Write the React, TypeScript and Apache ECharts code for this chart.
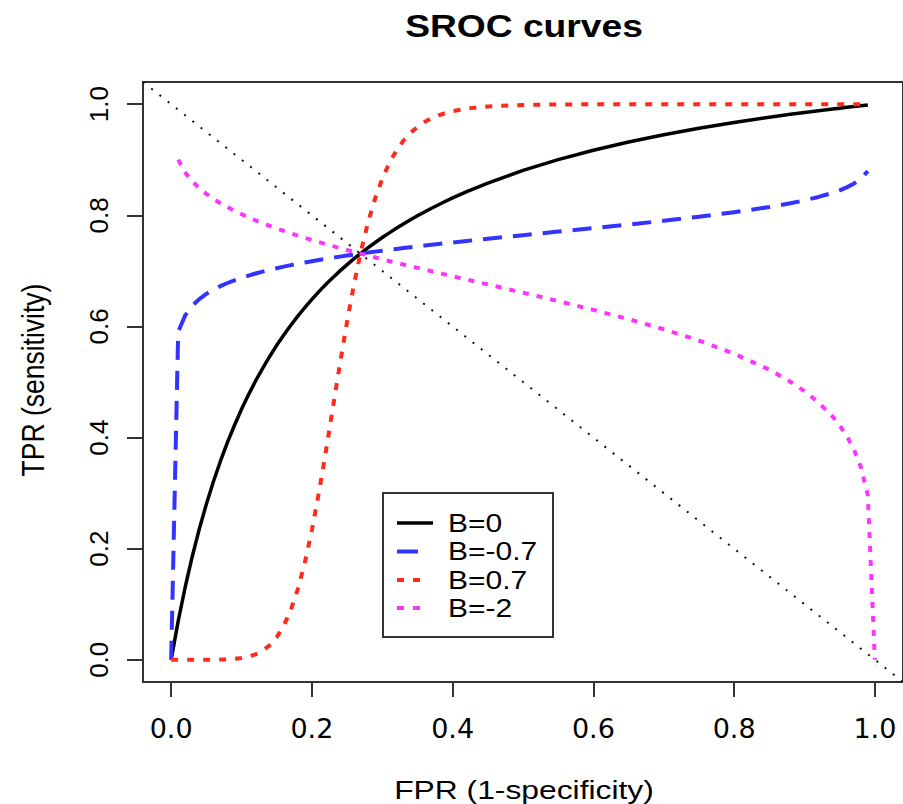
import React, { useEffect, useRef } from 'react';
import * as echarts from 'echarts';

// FPR grid (x values)
const FPR = [
  0, 0.01, 0.02, 0.03, 0.04, 0.05, 0.06, 0.07, 0.08, 0.09, 0.1, 0.11, 0.12, 0.13, 0.14, 0.15, 0.16, 0.17, 0.18, 0.19, 0.2,
  0.21, 0.22, 0.23, 0.24, 0.25, 0.26, 0.27, 0.28, 0.29, 0.3, 0.31, 0.32, 0.33, 0.34, 0.35, 0.36, 0.37, 0.38, 0.39, 0.4,
  0.42, 0.45, 0.5, 0.55, 0.6, 0.65, 0.7, 0.75, 0.8, 0.85, 0.88, 0.9, 0.92, 0.94, 0.95, 0.96, 0.97, 0.98, 0.99, 1.0,
];

// B = 0 (black, solid)
const TPR_B0 = [
  0, 0.0695, 0.131, 0.186, 0.2354, 0.28, 0.3205, 0.3574, 0.3912, 0.4222, 0.4509, 0.4773, 0.5019, 0.5247, 0.546, 0.566,
  0.5846, 0.6021, 0.6186, 0.6341, 0.6488, 0.6627, 0.6758, 0.6882, 0.7, 0.7112, 0.722, 0.7321, 0.7418, 0.7511, 0.76,
  0.7685, 0.7767, 0.7845, 0.792, 0.7991, 0.8061, 0.8127, 0.8191, 0.8253, 0.8313,
  0.8425, 0.8581, 0.8808, 0.9003, 0.9172, 0.9321, 0.9452, 0.9568, 0.9672, 0.9767, 0.9819, 0.9852, 0.9884, 0.9914,
  0.9929, 0.9944, 0.9958, 0.9972, 0.9986, null,
];

// B = -0.7 (blue, dashed)
const TPR_BM07 = [
  0, 0.5904, 0.62, 0.6372, 0.6492, 0.6586, 0.6662, 0.6726, 0.6782, 0.6831, 0.6876, 0.6916, 0.6953, 0.6987, 0.7019,
  0.7048, 0.7076, 0.7103, 0.7128, 0.7152, 0.7174, 0.7197, 0.7217, 0.7237, 0.7257, 0.7276, 0.7294, 0.7313, 0.733,
  0.7347, 0.7363, 0.738, 0.7395, 0.7411, 0.7426, 0.744, 0.7455, 0.747, 0.7484, 0.7498, 0.7512,
  0.7539, 0.7579, 0.7643, 0.7707, 0.777, 0.7834, 0.7902, 0.7975, 0.8055, 0.8149, 0.8217, 0.827, 0.8331, 0.8405,
  0.845, 0.8503, 0.8569, 0.8657, 0.8795, null,
];

// B = 0.7 (red, dotted)
const TPR_B07 = [
  0, 0, 0, 0, 0, 0, 0.0001, 0.0003, 0.0008, 0.0016, 0.0031, 0.0056, 0.0097, 0.0162, 0.0261, 0.0406, 0.0612, 0.0896,
  0.1272, 0.1751, 0.2334, 0.3013, 0.3762, 0.455, 0.5336, 0.6086, 0.6769, 0.737, 0.7883, 0.831, 0.8659, 0.8941,
  0.9165, 0.9343, 0.9482, 0.9593, 0.9679, 0.9747, 0.98, 0.9842, 0.9875,
  0.9921, 0.996, 0.9987, 0.9996, 0.9999, 1, 1, 1, 1, 1, 1, 1, 1, 1, 1, 1, 1, 1, 1, null,
];

// B = -2 (magenta, dotted)
const TPR_BM2 = [
  null, 0.9001, 0.877, 0.8612, 0.8489, 0.8387, 0.8297, 0.8218, 0.8147, 0.8082, 0.8021, 0.7964, 0.7909, 0.7859,
  0.7811, 0.7764, 0.772, 0.7677, 0.7635, 0.7595, 0.7556, 0.7518, 0.7481, 0.7445, 0.7409, 0.7375, 0.7341, 0.7307,
  0.7274, 0.7242, 0.721, 0.7177, 0.7146, 0.7115, 0.7084, 0.7054, 0.7024, 0.6993, 0.6963, 0.6933, 0.6904,
  0.6845, 0.6756, 0.6608, 0.6456, 0.6298, 0.6131, 0.5949, 0.5746, 0.551, 0.5221, 0.5006, 0.4836, 0.4632, 0.4377,
  0.4219, 0.4031, 0.3794, 0.3474, 0.2963, 0,
];

// reference diagonal (TPR = 1 - FPR) across the full plot range
const DIAG_X = [-0.04, 1.04];
const DIAG_Y = [1.04, -0.04];

const TICKS = [0, 0.2, 0.4, 0.6, 0.8, 1.0];
const SERIES_NAMES = ['B=0', 'B=-0.7', 'B=0.7', 'B=-2'];
const SERIES_COLORS = ['#000000', '#3333ff', '#ff2a1a', '#ff33ff'];
const TITLE = 'SROC curves';
const X_NAME = 'FPR (1-specificity)';
const Y_NAME = 'TPR (sensitivity)';

function pairs(xs: number[], ys: (number | null)[]) {
  const out: number[][] = [];
  xs.forEach((x, i) => {
    const y = ys[i];
    if (y !== null && y !== undefined) out.push([x, y]);
  });
  return out;
}

export default function App() {
  const ref = useRef<HTMLDivElement>(null);

  useEffect(() => {
    if (!ref.current) return;
    const chart = echarts.init(ref.current, null, { renderer: 'svg' });
    const boxColor = '#333333';
    const legendRows = [523, 551.5, 580, 608];
    const legendStyles = [
      { lineWidth: 3.5, lineDash: null as any, x2: 433 },
      { lineWidth: 4, lineDash: [21, 20], x2: 433 },
      { lineWidth: 4, lineDash: [7, 9], x2: 421 },
      { lineWidth: 4, lineDash: [7, 9], x2: 421 },
    ];
    const graphic: any[] = [
      {
        type: 'text', x: 524, y: 26, scaleX: 1.2, z: 100,
        style: { text: TITLE, x: 0, y: 0, textAlign: 'center', textVerticalAlign: 'middle', font: "bold 31px 'Liberation Sans'", fill: '#000' },
      },
      {
        type: 'text', x: 524, y: 790, scaleX: 1.2, z: 100,
        style: { text: X_NAME, x: 0, y: 0, textAlign: 'center', textVerticalAlign: 'middle', font: "26.5px 'Liberation Sans'", fill: '#000' },
      },
      {
        type: 'text', x: 33, y: 380, rotation: Math.PI / 2, scaleY: 1.2, z: 100,
        style: { text: Y_NAME, x: 0, y: 0, textAlign: 'center', textVerticalAlign: 'middle', font: "26.5px 'Liberation Sans'", fill: '#000' },
      },
      {
        type: 'rect', z: 100,
        shape: { x: 383, y: 493, width: 170, height: 144 },
        style: { fill: '#ffffff', stroke: boxColor, lineWidth: 2 },
      },
    ];
    SERIES_NAMES.forEach((name, i) => {
      const st = legendStyles[i];
      graphic.push({
        type: 'line', z: 101,
        shape: { x1: 397, y1: legendRows[i], x2: st.x2, y2: legendRows[i] },
        style: { stroke: SERIES_COLORS[i], lineWidth: st.lineWidth, lineDash: st.lineDash },
      });
      graphic.push({
        type: 'text', x: 448, y: legendRows[i], scaleX: 1.2, z: 101,
        style: { text: name, x: 0, y: 0, textAlign: 'left', textVerticalAlign: 'middle', font: "25px 'Liberation Sans'", fill: '#000' },
      });
    });

    const seriesData = [TPR_B0, TPR_BM07, TPR_B07, TPR_BM2];
    const seriesLine = [
      { width: 3.5, type: 'solid' as any },
      { width: 4, type: [19, 11] },
      { width: 4, type: [7, 9] },
      { width: 4, type: [6, 8] },
    ];

    const option: any = {
      animation: false,
      backgroundColor: '#ffffff',
      grid: {
        left: 143, top: 82, width: 763, height: 600,
        show: true, borderColor: boxColor, borderWidth: 2, backgroundColor: 'transparent',
      },
      xAxis: {
        type: 'value', min: -0.04, max: 1.04, position: 'bottom',
        axisLine: { show: false, onZero: false },
        splitLine: { show: false },
        axisTick: { show: true, inside: false, length: 15, lineStyle: { color: boxColor, width: 2 }, customValues: TICKS },
        axisLabel: {
          customValues: TICKS, formatter: (v: number) => v.toFixed(1),
          fontFamily: 'DejaVu Sans', fontSize: 27, color: '#000', margin: 33,
        },
      },
      yAxis: {
        type: 'value', min: -0.04, max: 1.04, position: 'left',
        axisLine: { show: false, onZero: false },
        splitLine: { show: false },
        axisTick: { show: true, inside: false, length: 16, lineStyle: { color: boxColor, width: 2 }, customValues: TICKS },
        axisLabel: {
          customValues: TICKS, formatter: (v: number) => v.toFixed(1), rotate: 90,
          fontFamily: 'Liberation Sans', fontSize: 26, color: '#000', margin: 31,
        },
      },
      series: [
        {
          type: 'line', name: 'diag', data: DIAG_X.map((x, i) => [x, DIAG_Y[i]]),
          symbol: 'none', silent: true, z: 1,
          lineStyle: { color: '#111', width: 2, type: [2, 8.5] },
        },
        ...SERIES_NAMES.map((name, i) => ({
          type: 'line', name, data: pairs(FPR, seriesData[i]),
          symbol: 'none', silent: true, z: 2 + i,
          lineStyle: { color: SERIES_COLORS[i], width: seriesLine[i].width, type: seriesLine[i].type, cap: 'butt', join: 'round' },
        })),
      ],
      graphic,
    };
    chart.setOption(option);
    return () => chart.dispose();
  }, []);

  return <div ref={ref} style={{ position: 'absolute', left: 0, top: 0, width: 903, height: 804 }} />;
}
